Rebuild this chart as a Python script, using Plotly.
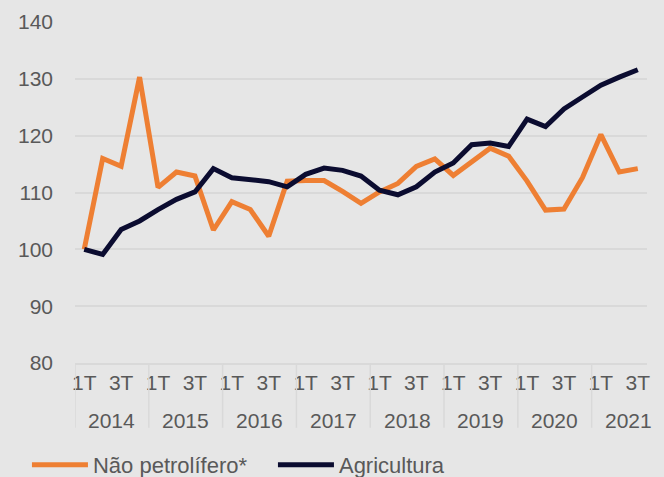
import plotly.graph_objects as go

years = ["2014", "2015", "2016", "2017", "2018", "2019", "2020", "2021"]
quarters = ["1T", "2T", "3T", "4T"]
quarter_ticktext = ["1T", "", "3T", ""]

nao_petrolifero = [100.0, 116.0, 114.6, 130.3,
                   110.9, 113.6, 112.9, 103.4,
                   108.4, 107.0, 102.3, 112.0,
                   112.1, 112.1, 110.2, 108.1,
                   110.1, 111.6, 114.6, 115.9,
                   113.0, 115.4, 117.8, 116.4,
                   112.0, 106.9, 107.1, 112.6,
                   120.2, 113.6, 114.2]
agricultura = [100.0, 99.1, 103.5, 105.0,
               107.0, 108.8, 110.1, 114.2,
               112.6, 112.3, 111.9, 111.0,
               113.2, 114.3, 113.9, 112.9,
               110.4, 109.6, 111.0, 113.6,
               115.2, 118.4, 118.7, 118.1,
               122.9, 121.6, 124.7, 126.8,
               128.9, 130.3, 131.6]

n = len(nao_petrolifero)
cats = [f"{years[i // 4]} {quarters[i % 4]}" for i in range(n)]
tick_text = [quarter_ticktext[i % 4] for i in range(n)]

ORANGE = "#EE7F33"
NAVY = "#0B0C30"
TXT = "#595959"
GRID = "#D9D9D9"
BG = "#E6E6E6"
FONT = "Liberation Sans, Arial, sans-serif"

fig = go.Figure()
fig.add_trace(go.Scatter(x=cats, y=nao_petrolifero, mode="lines",
                         name="Não petrolífero*",
                         line=dict(color=ORANGE, width=5)))
fig.add_trace(go.Scatter(x=cats, y=agricultura, mode="lines",
                         name="Agricultura",
                         line=dict(color=NAVY, width=5)))

# year group labels and dividers (category-index positions, 4 slots per year)
for k, yr in enumerate(years):
    first = 4 * k
    fig.add_annotation(x=first + 1.5, xref="x", y=-0.170, yref="paper", yanchor="middle",
                       text=yr, showarrow=False, font=dict(size=21, color=TXT))
    fig.add_shape(type="line", xref="x", yref="paper", x0=first - 0.5, x1=first - 0.5,
                  y0=0, y1=-0.19, line=dict(color=GRID, width=1.5))

fig.update_layout(
    width=664, height=477,
    paper_bgcolor=BG, plot_bgcolor=BG,
    margin=dict(l=75, r=17, t=22, b=114, autoexpand=False),
    font=dict(family=FONT, size=21, color=TXT),
    showlegend=True,
    legend=dict(orientation="h", x=-0.084, xanchor="left", y=-0.299, yanchor="middle",
                font=dict(size=22, color=TXT), bgcolor="rgba(0,0,0,0)",
                itemwidth=56, entrywidth=175, entrywidthmode="pixels"),
)
fig.update_yaxes(range=[80, 140], dtick=10, showgrid=True, gridcolor=GRID, gridwidth=2,
                 zeroline=False, showline=False, ticks="", ticklen=0,
                 tickfont=dict(size=21, color=TXT), ticklabelstandoff=21)
fig.update_xaxes(type="category", range=[-0.5, n - 0.5], showgrid=False,
                 tickmode="array", tickvals=cats, ticktext=tick_text,
                 showline=True, linecolor=GRID, linewidth=2, ticks="", tickangle=0,
                 tickfont=dict(size=21, color=TXT))

fig.write_html("out.html", config={"displayModeBar": False},
               post_script="document.body.style.margin='0';")
